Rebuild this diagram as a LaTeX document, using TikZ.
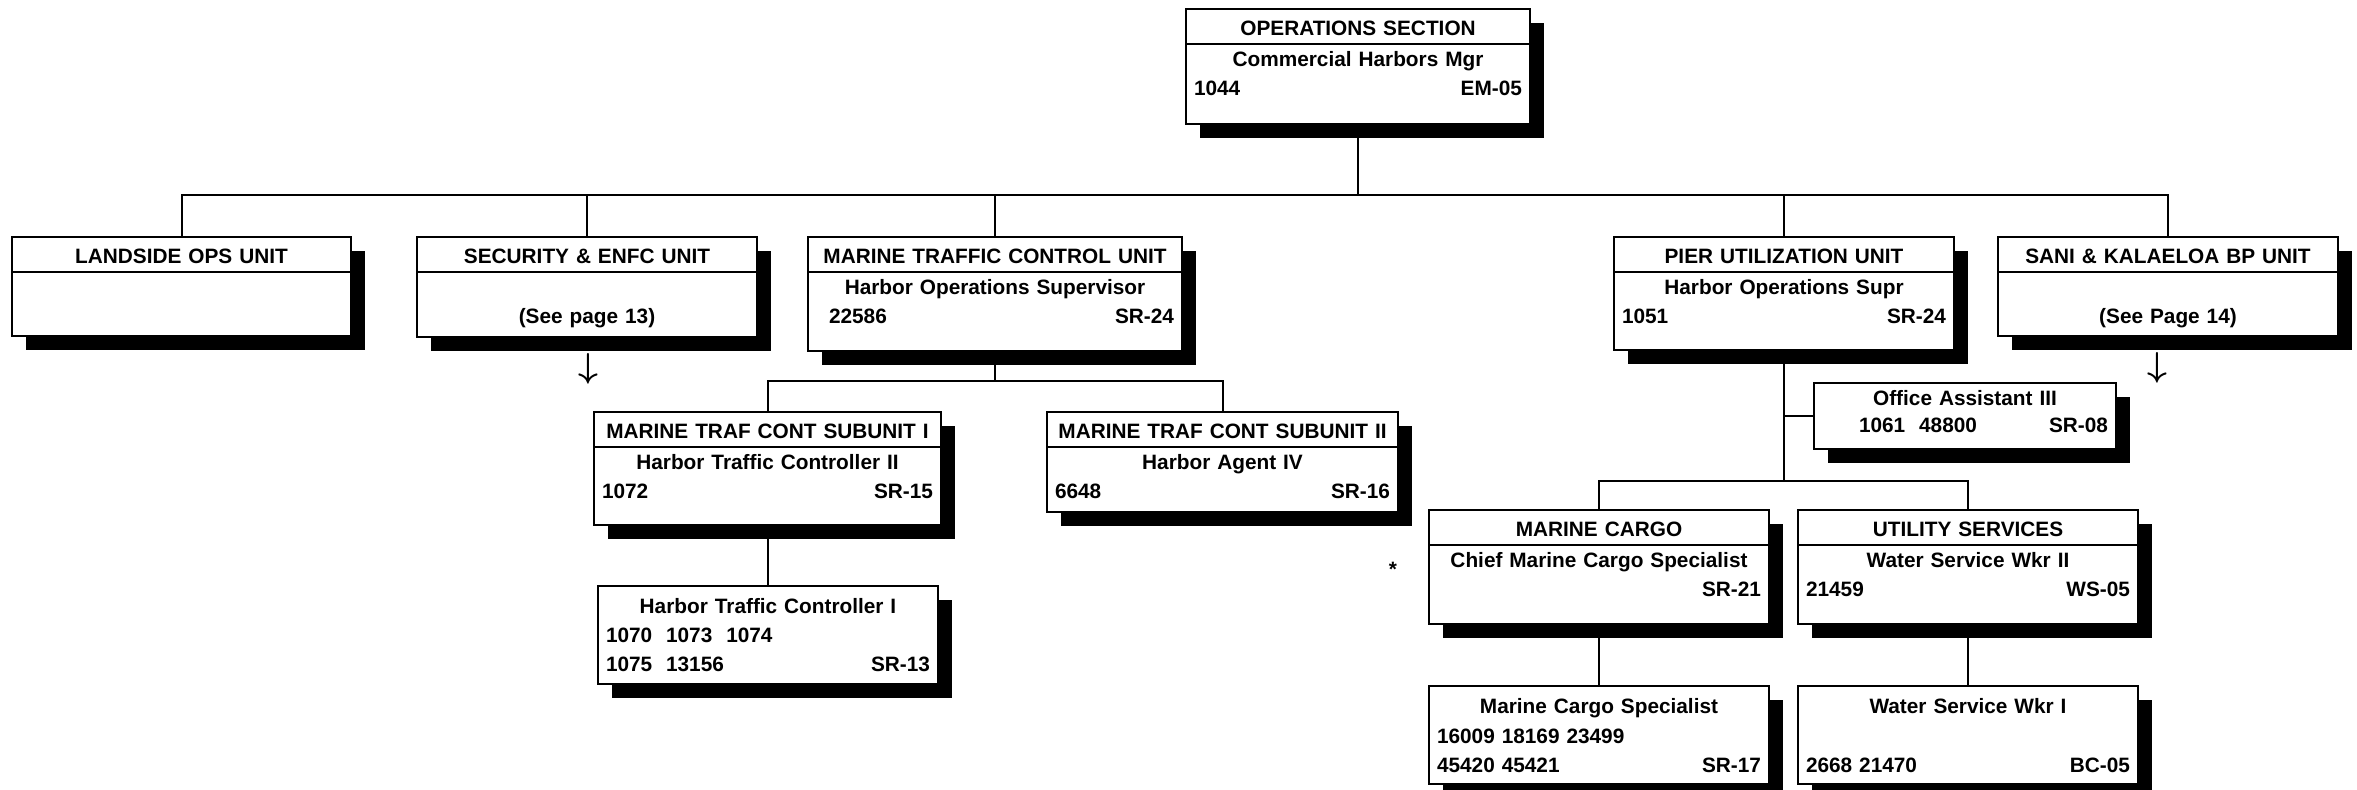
\documentclass[tikz,border=0pt]{standalone}
\usepackage{fontspec}
\setmainfont{Liberation Sans}
\usetikzlibrary{shadows}
\begin{document}
\begin{tikzpicture}[x=0.5pt,y=-0.5pt,
  post/.style={draw, line width=1pt, fill=white, anchor=north west,
               inner xsep=4pt, inner ysep=0pt, align=center, text height=14pt,
               font=\fontsize{10.4}{14.5}\selectfont\bfseries,
               general shadow={fill=black, shadow xshift=7pt, shadow yshift=-7pt}},
  unit/.style={post, text height=13.5pt,
               path picture={\draw[line width=1pt]
                 ([yshift=-17.5pt]path picture bounding box.north west) --
                 ([yshift=-17.5pt]path picture bounding box.north east);}},
  more/.style={font=\fontsize{16}{16}\selectfont\boldmath, inner sep=0pt},
  link/.style={line width=1pt},
  ]
  \useasboundingbox (0,0) rectangle (2357,790);
  % ---- section head ------------------------------------------------------
  \node[unit, text width=164pt, text depth=44pt] (ops) at (1185,8)
    {OPERATIONS SECTION\\[1pt]Commercial Harbors Mgr\\1044\hfill EM-05};
  % ---- units ---------------------------------------------------------------
  \node[unit, text width=161.5pt, text depth=36pt] (land) at (11,236) {LANDSIDE OPS UNIT};
  \node[unit, text width=162pt, text depth=36.5pt] (sec) at (416,236)
    {SECURITY \& ENFC UNIT\\[15.5pt](See page 13)};
  \node[unit, text width=179pt, text depth=43.5pt] (mtc) at (807,236)
    {MARINE TRAFFIC CONTROL UNIT\\[1pt]Harbor Operations Supervisor\\\hspace*{6.5pt}22586\hfill SR-24\hspace*{6.5pt}};
  \node[unit, text width=162pt, text depth=43pt] (pier) at (1613,236)
    {PIER UTILIZATION UNIT\\[1pt]Harbor Operations Supr\\1051\hfill SR-24};
  \node[unit, text width=162pt, text depth=36pt] (sani) at (1997,236)
    {SANI \& KALAELOA BP UNIT\\[15.5pt](See Page 14)};
  \node[more] (secmore) at (588,369) {$\downarrow$};
  \node[more] (sanimore) at (2157,368) {$\downarrow$};
  % ---- marine traffic control ----------------------------------------------
  \node[unit, text width=165.5pt, text depth=43pt] (sub1) at (593,411)
    {MARINE TRAF CONT SUBUNIT I\\[1pt]Harbor Traffic Controller II\\1072\hfill SR-15};
  \node[unit, text width=167.5pt, text depth=36.5pt] (sub2) at (1046,411)
    {MARINE TRAF CONT SUBUNIT II\\[1pt]Harbor Agent IV\\6648\hfill SR-16};
  \node[post, text width=162pt, text depth=35pt] (htc1) at (597,585)
    {Harbor Traffic Controller I\\1070~~1073~~1074\hfill\mbox{}\\1075~~13156\hfill SR-13};
  % ---- pier utilization ----------------------------------------------------
  \node[post, text width=143pt, text height=11.5pt, text depth=21.5pt] (office) at (1813,382)
    {Office Assistant III\\[-1pt]\hspace*{18.5pt}1061~~48800\hfill SR-08\hspace*{12.5pt}};
  \node[unit, text width=162pt, text depth=43.5pt] (cargo) at (1428,509)
    {MARINE CARGO\\[1pt]Chief Marine Cargo Specialist\\\mbox{}\hfill SR-21};
  \node[unit, text width=162pt, text depth=43.5pt] (util) at (1797,509)
    {UTILITY SERVICES\\[1pt]Water Service Wkr II\\21459\hfill WS-05};
  \node[font=\fontsize{10.4}{12}\selectfont\bfseries] (star) at (1393,569) {*};
  \node[post, text width=162pt, text depth=35pt] (cspec) at (1428,685)
    {Marine Cargo Specialist\\16009 18169 23499\hfill\mbox{}\\45420 45421\hfill SR-17};
  \node[post, text width=162pt, text depth=35pt] (wsw) at (1797,685)
    {Water Service Wkr I\\\mbox{}\\2668 21470\hfill BC-05};
  % ---- lines ---------------------------------------------------------------
  \coordinate (bus1) at (0,195);
  \coordinate (bus2) at (0,381);
  \coordinate (bus3) at (0,481);
  \draw[link] (ops.south) -- (ops.south |- bus1);
  \draw[link] (land.north) -- (land.north |- bus1) -- (sani.north |- bus1) -- (sani.north);
  \foreach \n in {sec,mtc,pier} { \draw[link] (\n.north) -- (\n.north |- bus1); }
  \draw[link] (mtc.south) -- (mtc.south |- bus2);
  \draw[link] (sub1.north) -- (sub1.north |- bus2) -- (sub2.north |- bus2) -- (sub2.north);
  \draw[link] (htc1.north) -- (htc1.north |- sub1.south);
  \draw[link] (pier.south) -- (pier.south |- bus3);
  \draw[link] (office.west) -- (office.west -| pier.south);
  \draw[link] (cargo.north) -- (cargo.north |- bus3) -- (util.north |- bus3) -- (util.north);
  \draw[link] (cargo.south) -- (cspec.north);
  \draw[link] (util.south) -- (wsw.north);
\end{tikzpicture}
\end{document}
